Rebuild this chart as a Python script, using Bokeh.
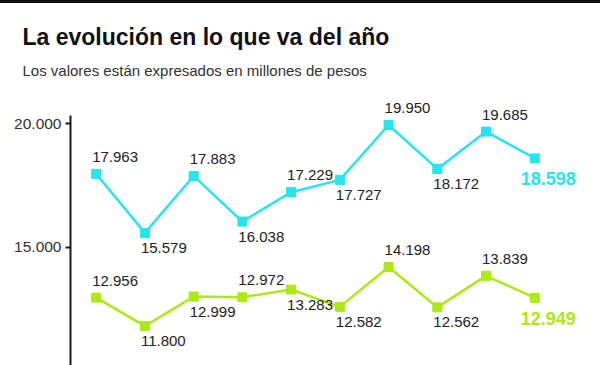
from bokeh.plotting import figure
from bokeh.models import Range1d, FixedTicker, Title, ColumnDataSource, LabelSet, Div
from bokeh.layouts import column
from bokeh.embed import file_html
from bokeh.resources import INLINE
from bokeh.core.properties import value

# ---------------- data ----------------
title_text = "La evolución en lo que va del año"
subtitle_text = "Los valores están expresados en millones de pesos"

periods = list(range(10))
cyan_values = [17963, 15579, 17883, 16038, 17229, 17727, 19950, 18172, 19685, 18598]
green_values = [12956, 11800, 12999, 12972, 13283, 12582, 14198, 12562, 13839, 12949]
cyan_label_side = ["above", "below", "above", "below", "above", "below", "above", "below", "above", "last"]
green_label_side = ["above", "below", "below", "above", "below", "below", "above", "below", "above", "last"]

y_ticks = [10000, 15000, 20000]
y_tick_labels = ["10.000", "15.000", "20.000"]

# ---------------- style ----------------
CYAN = "#26e4f0"
GREEN = "#ade914"
FONT = "Liberation Sans"
# (x offset px, y offset px upward)
side_offsets = {"above": (-4, 12), "below": (-4, -20), "last": (-14, -27)}


def fmt(v):
    return f"{v:,}".replace(",", ".")


top_bar = Div(text="", width=600, height=3, margin=0,
              styles={"background-color": "#111111"})

p = figure(width=600, height=362, toolbar_location=None, output_backend="svg",
           x_range=Range1d(-0.527, 10.349), y_range=Range1d(10205, 21390),
           min_border_left=70, min_border_right=0, min_border_bottom=0, min_border_top=86,
           title=None, outline_line_color=None, background_fill_color="white",
           border_fill_color="white", margin=0)
p.xaxis.visible = False
p.grid.visible = False

yax = p.yaxis[0]
yax.ticker = FixedTicker(ticks=y_ticks)
yax.major_label_overrides = {t: l for t, l in zip(y_ticks, y_tick_labels)}
yax.bounds = (10205, 20336)
yax.minor_tick_line_color = None
yax.axis_line_color = "#1a1a1a"
yax.axis_line_width = 2
yax.major_tick_line_color = "#1a1a1a"
yax.major_tick_line_width = 2
yax.major_tick_out = 5
yax.major_tick_in = 0
yax.major_label_standoff = 4
yax.major_label_text_font = FONT
yax.major_label_text_font_size = "15.5px"
yax.major_label_text_color = "#333333"

sub = Title(text=subtitle_text, align="left", offset=-48, text_font=FONT,
            text_font_size="15px", text_font_style="normal", text_color="#333333",
            standoff=21)
p.add_layout(sub, "above")
ttl = Title(text=title_text, align="left", offset=-48, text_font=FONT,
            text_font_size="23px", text_font_style="bold", text_color="#111111",
            standoff=0)
p.add_layout(ttl, "above")

for vals, sides, color in [(cyan_values, cyan_label_side, CYAN),
                           (green_values, green_label_side, GREEN)]:
    src = ColumnDataSource(dict(x=periods, y=vals))
    p.line("x", "y", source=src, line_color=color, line_width=2.5)
    p.scatter("x", "y", source=src, marker="square", size=9,
              fill_color=color, line_color=color)

    reg = [i for i, s in enumerate(sides) if s != "last"]
    last = [i for i, s in enumerate(sides) if s == "last"]
    reg_src = ColumnDataSource(dict(
        x=[periods[i] for i in reg], y=[vals[i] for i in reg],
        t=[fmt(vals[i]) for i in reg],
        dx=[side_offsets[sides[i]][0] for i in reg],
        dy=[side_offsets[sides[i]][1] for i in reg]))
    p.add_layout(LabelSet(x="x", y="y", text="t", source=reg_src,
                          x_offset="dx", y_offset="dy",
                          text_align="left", text_baseline="alphabetic",
                          text_font=value(FONT), text_font_size=value("15px"),
                          text_color="#222222"))
    last_src = ColumnDataSource(dict(
        x=[periods[i] for i in last], y=[vals[i] for i in last],
        t=[fmt(vals[i]) for i in last],
        dx=[side_offsets[sides[i]][0] for i in last],
        dy=[side_offsets[sides[i]][1] for i in last]))
    p.add_layout(LabelSet(x="x", y="y", text="t", source=last_src,
                          x_offset="dx", y_offset="dy",
                          text_align="left", text_baseline="alphabetic",
                          text_font=value(FONT), text_font_size=value("18px"),
                          text_font_style="bold", text_color=color))

layout = column(top_bar, p, spacing=0)
open("out.html", "w").write(file_html(layout, INLINE))
